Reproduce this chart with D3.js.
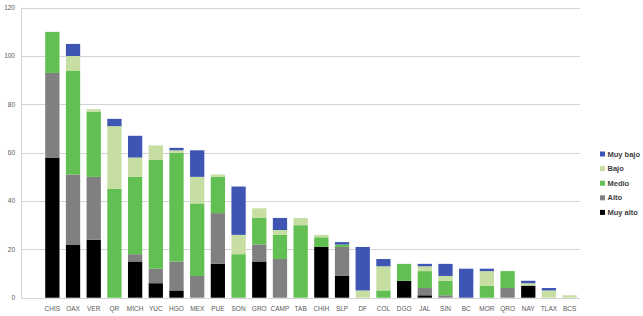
<!DOCTYPE html>
<html lang="es">
<head>
    <meta charset="UTF-8">
    <title>Municipios por grado</title>
    <script src="https://cdn.jsdelivr.net/npm/d3@7"></script>
    <style>
        body { margin: 0; background: #fff; }
    </style>
</head>
<body>
<script>
    // categorias (estados)
    const estados = ["CHIS", "OAX", "VER", "QR", "MICH", "YUC", "HGO", "MEX", "PUE", "SON", "GRO", "CAMP", "TAB",
        "CHIH", "SLP", "DF", "COL", "DGO", "JAL", "SIN", "BC", "MOR", "QRO", "NAY", "TLAX", "BCS"];

    // series, de abajo hacia arriba
    const muyAlto = [58, 22, 24, 0, 15, 6, 3, 0, 14, 0, 15, 0, 0, 21, 9, 0, 0, 7, 1, 0, 0, 0, 0, 5, 0, 0];
    const alto    = [35, 29, 26, 0, 3, 6, 12, 9, 21, 0, 7, 16, 0, 0, 12, 0, 0, 0, 3, 1, 0, 0, 4, 0, 0, 0];
    const medio   = [17, 43, 27, 45, 32, 45, 45, 30, 15, 18, 11, 10, 30, 4, 1, 0, 3, 7, 7, 6, 0, 5, 7, 0, 0, 0];
    const bajo    = [0, 6, 1, 26, 8, 6, 1, 11, 1, 8, 4, 2, 3, 1, 0, 3, 10, 0, 2, 2, 0, 6, 0, 1, 3, 1];
    const muyBajo = [0, 5, 0, 3, 9, 0, 1, 11, 0, 20, 0, 5, 0, 0, 1, 18, 3, 0, 1, 5, 12, 1, 0, 1, 1, 0];

    const serieNames = ["Muy alto", "Alto", "Medio", "Bajo", "Muy bajo"];
    const serieValues = [muyAlto, alto, medio, bajo, muyBajo];
    const yTicks = [0, 20, 40, 60, 80, 100, 120];

    const width = 643, height = 316;
    const margin = ({top: 8, right: 63, bottom: 18, left: 21});
    const firstBar = 42; // primera barra deja un hueco tras el eje

    const data = estados.map((e, i) => {
        const row = {estado: e};
        serieNames.forEach((s, j) => row[s] = serieValues[j][i]);
        return row;
    });

    const color = d3.scaleOrdinal()
        .domain(serieNames)
        .range(["#000000", "#808080", "#62bf52", "#c6dea2", "#3f55b3"]);

    const svg = d3.select("body").append("svg")
        .attr("width", width)
        .attr("height", height);

    const x = d3.scaleBand()
        .domain(estados)
        .range([firstBar, width - margin.right])
        .paddingInner(0.31)
        .paddingOuter(0.155);

    const y = d3.scaleLinear()
        .domain([0, 120])
        .range([height - margin.bottom - 0.3, margin.top - 0.3]);

    // rejilla
    svg.append("g")
        .selectAll("line")
        .data(yTicks)
        .join("line")
        .attr("x1", margin.left)
        .attr("x2", width - margin.right)
        .attr("y1", d => Math.round(y(d)) + 0.5)
        .attr("y2", d => Math.round(y(d)) + 0.5)
        .attr("stroke", "#d4d4d4")
        .attr("stroke-width", 1);

    svg.append("line")
        .attr("x1", margin.left + 0.5)
        .attr("x2", margin.left + 0.5)
        .attr("y1", y(120))
        .attr("y2", y(0))
        .attr("stroke", "#d4d4d4");

    // eje y
    svg.append("g")
        .selectAll("text")
        .data(yTicks)
        .join("text")
        .attr("x", 15)
        .attr("y", d => y(d))
        .attr("dy", "0.35em")
        .attr("text-anchor", "end")
        .attr("font-family", "Liberation Sans, Arial, sans-serif")
        .attr("font-size", 6.5)
        .attr("fill", "#595959")
        .text(d => d);

    // barras apiladas
    const stacked = d3.stack().keys(serieNames)(data);

    svg.append("g")
        .selectAll("g")
        .data(stacked)
        .join("g")
        .attr("fill", d => color(d.key))
        .selectAll("rect")
        .data(d => d.filter(p => p[1] > p[0]))
        .join("rect")
        .attr("x", d => x(d.data.estado))
        .attr("y", d => y(d[1]))
        .attr("width", x.bandwidth())
        .attr("height", d => y(d[0]) - y(d[1]));

    // eje x
    svg.append("g")
        .selectAll("text")
        .data(estados)
        .join("text")
        .attr("x", d => x(d) + x.bandwidth() / 2)
        .attr("y", height - 7)
        .attr("dy", "0.35em")
        .attr("text-anchor", "middle")
        .attr("font-family", "Liberation Sans, Arial, sans-serif")
        .attr("font-size", 6.5)
        .attr("fill", "#595959")
        .text(d => d);

    // leyenda
    const legend = svg.append("g")
        .attr("transform", "translate(600, 154)")
        .selectAll("g")
        .data(serieNames.slice().reverse())
        .join("g")
        .attr("transform", (d, i) => `translate(0, ${i * 14.6})`);

    legend.append("rect")
        .attr("x", 0)
        .attr("y", -2.5)
        .attr("width", 5)
        .attr("height", 5)
        .attr("fill", color);

    legend.append("text")
        .attr("x", 7.5)
        .attr("y", 0)
        .attr("dy", "0.35em")
        .attr("font-family", "Liberation Sans, Arial, sans-serif")
        .attr("font-size", 7.5)
        .attr("font-weight", "bold")
        .attr("fill", "#404040")
        .text(d => d);
</script>
</body>
</html>
